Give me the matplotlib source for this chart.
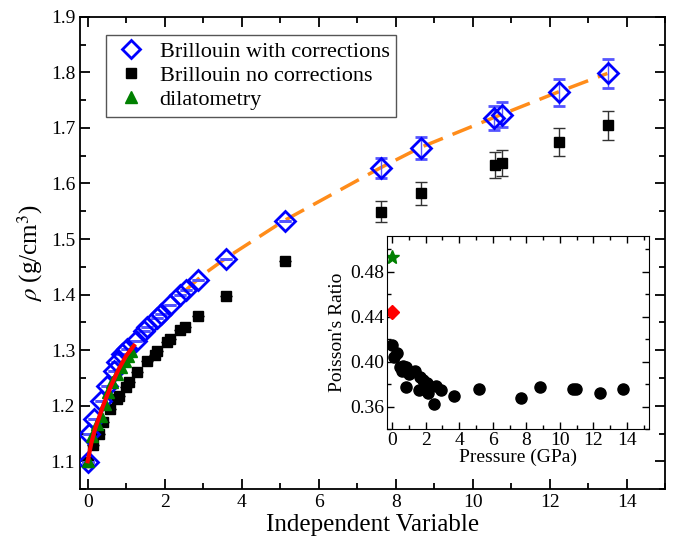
import numpy as np
import matplotlib
matplotlib.use('Agg')
import matplotlib.pyplot as plt
from matplotlib.ticker import MultipleLocator
from matplotlib.lines import Line2D

plt.rcParams['font.family'] = ['Liberation Serif', 'DejaVu Serif']
plt.rcParams['mathtext.fontset'] = 'stix'

# Brillouin with corrections
x_corr = [0.0, 0.03, 0.16, 0.34, 0.51, 0.68, 0.77, 0.90, 1.03, 1.25, 1.46, 1.55,
          1.79, 1.91, 2.14, 2.40, 2.55, 2.87, 3.58, 5.12, 7.61, 8.65, 10.55, 10.75,
          12.24, 13.51]
y_corr = [1.099, 1.149, 1.176, 1.209, 1.236, 1.263, 1.278, 1.293, 1.302, 1.317, 1.335,
          1.341, 1.357, 1.365, 1.381, 1.399, 1.408, 1.426, 1.464, 1.532, 1.628, 1.664,
          1.718, 1.724, 1.764, 1.798]
err_corr = [0] * 19 + [0.0, 0.018, 0.020, 0.022, 0.022, 0.024, 0.026]

# Brillouin no corrections
x_nocorr = [0.0, 0.15, 0.29, 0.41, 0.58, 0.77, 0.81, 1.00, 1.07, 1.27, 1.55, 1.75,
            1.81, 2.07, 2.14, 2.40, 2.54, 2.87, 3.58, 5.12, 7.61, 8.65, 10.57, 10.75,
            12.24, 13.51]
y_nocorr = [1.099, 1.129, 1.149, 1.171, 1.194, 1.212, 1.218, 1.233, 1.242, 1.260, 1.280,
            1.292, 1.298, 1.314, 1.320, 1.337, 1.341, 1.361, 1.397, 1.461, 1.549, 1.582,
            1.633, 1.637, 1.675, 1.705]
err_nocorr = [0] * 19 + [0.0, 0.019, 0.020, 0.023, 0.023, 0.025, 0.026]

# dilatometry
x_dil = [0.01, 0.12, 0.25, 0.34, 0.44, 0.53, 0.64, 0.75, 0.86, 0.96, 1.05, 1.13]
y_dil = [1.101, 1.146, 1.167, 1.182, 1.203, 1.224, 1.242, 1.257, 1.269, 1.281, 1.290, 1.298]

# fits
x_red = [0.0, 0.1, 0.2, 0.4, 0.6, 0.8, 1.0, 1.2]
y_red = [1.100, 1.135, 1.160, 1.200, 1.235, 1.265, 1.290, 1.308]
x_orange = [2.5, 3.0, 3.6, 5.1, 7.6, 8.65, 10.6, 12.2, 13.5]
y_orange = [1.405, 1.436, 1.466, 1.533, 1.628, 1.665, 1.720, 1.764, 1.798]

# inset: Poisson's ratio
p_brill = [0.0, 0.1, 0.26, 0.46, 0.6, 0.66, 0.85, 0.85, 0.99, 1.35, 1.6, 1.65,
           1.85, 2.08, 2.14, 2.5, 2.6, 2.94, 3.67, 5.16, 7.66, 8.8, 10.78, 10.98,
           12.37, 13.76]
nu_brill = [0.415, 0.404, 0.408, 0.395, 0.392, 0.396, 0.395, 0.377, 0.389, 0.392,
            0.375, 0.386, 0.384, 0.381, 0.372, 0.362, 0.378, 0.375, 0.369, 0.376,
            0.368, 0.377, 0.376, 0.376, 0.372, 0.376]
p_dia, nu_dia = [0.0], [0.4445]
p_star, nu_star = [0.0], [0.493]

fig = plt.figure(figsize=(6.78, 5.41), dpi=100)
ax = fig.add_axes([0.118, 0.096, 0.863, 0.873])

ax.plot(x_orange, y_orange, color='#ff8c1a', lw=2.5, dashes=(6, 3), zorder=1)
ax.errorbar(x_nocorr, y_nocorr, yerr=err_nocorr, fmt='s', color='black', ms=7,
            ecolor='#333333', elinewidth=1, capsize=4, zorder=2)
ax.errorbar(x_corr, y_corr, yerr=err_corr, fmt='D', mfc='none', mec='#0000ff', mew=2,
            ms=10, ecolor='#5555ff', elinewidth=1, capsize=4, zorder=3)
ax.plot(x_dil, y_dil, '^', color='#008000', ms=8, ls='none', zorder=4)
ax.plot(x_red, y_red, color='red', lw=3, zorder=5)

ax.set_xlim(-0.2, 15)
ax.set_ylim(1.05, 1.9)
ax.xaxis.set_major_locator(MultipleLocator(2))
ax.xaxis.set_minor_locator(MultipleLocator(1))
ax.yaxis.set_major_locator(MultipleLocator(0.1))
ax.yaxis.set_minor_locator(MultipleLocator(0.05))
ax.tick_params(which='both', direction='in', top=True, right=True, labelsize=14, width=1.3)
ax.tick_params(which='major', length=7)
ax.tick_params(which='minor', length=4)
for s in ax.spines.values():
    s.set_linewidth(1.3)
ax.set_xlabel('Independent Variable', fontsize=18, labelpad=2)
ax.set_ylabel(r'$\rho$ (g/cm$^{3}$)', fontsize=18, labelpad=4)

handles = [
    Line2D([], [], marker='D', mfc='none', mec='#0000ff', mew=2, ms=9, ls='none'),
    Line2D([], [], marker='s', color='black', ms=7, ls='none'),
    Line2D([], [], marker='^', color='#008000', ms=8, ls='none'),
]
labels = ['Brillouin with corrections', 'Brillouin no corrections', 'dilatometry']
leg = ax.legend(handles, labels, loc='upper left', bbox_to_anchor=(0.026, 0.985),
                fontsize=16, fancybox=False, framealpha=1, edgecolor='#555555',
                handletextpad=0.5, handlelength=1.6, borderpad=0.3, labelspacing=0.15)
leg.get_frame().set_linewidth(1)

ins = fig.add_axes([0.571, 0.207, 0.386, 0.357])
ins.plot(p_brill, nu_brill, 'o', color='black', ms=8, ls='none')
ins.plot(p_dia, nu_dia, 'D', color='red', ms=7, ls='none')
ins.plot(p_star, nu_star, '*', color='#008000', ms=10, ls='none')
ins.set_xlim(-0.3, 15.3)
ins.set_ylim(0.34, 0.512)
ins.xaxis.set_major_locator(MultipleLocator(2))
ins.xaxis.set_minor_locator(MultipleLocator(1))
ins.yaxis.set_minor_locator(MultipleLocator(0.02))
ins.set_yticks([0.36, 0.40, 0.44, 0.48])
ins.set_yticklabels(['0.36', '0.40', '0.44', '0.48'])
ins.tick_params(which='both', direction='in', top=True, right=True, labelsize=14, width=1)
ins.tick_params(which='major', length=5, pad=2)
ins.tick_params(which='minor', length=3)
ins.set_xlabel('Pressure (GPa)', fontsize=14, labelpad=0)
ins.set_ylabel("Poisson's Ratio", fontsize=14, labelpad=3)

fig.savefig('out.png', dpi=100)
